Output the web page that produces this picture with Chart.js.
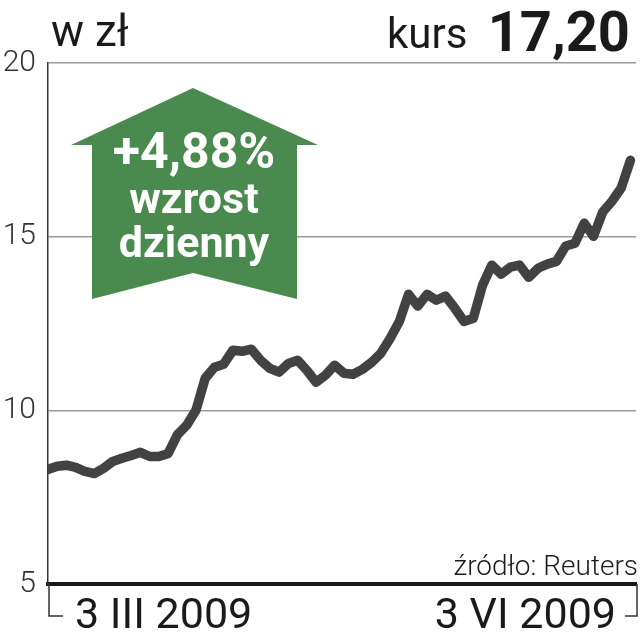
<!DOCTYPE html>
<html>
<head>
<meta charset="utf-8">
<script src="https://cdn.jsdelivr.net/npm/chart.js@4"></script>
<style>
  html, body { margin: 0; padding: 0; background: #fff; }
  #wrap { width: 640px; height: 640px; }
</style>
</head>
<body>
<div id="wrap"><canvas id="chartKurs"></canvas></div>
<script>
// kurs akcji, 3 III 2009 - 3 VI 2009 (notowania dzienne)
const prices = [
  8.30, 8.39, 8.42, 8.36, 8.24, 8.18, 8.33, 8.53, 8.62, 8.70,
  8.79, 8.67, 8.67, 8.76, 9.30, 9.57, 10.00, 10.92, 11.24, 11.33,
  11.73, 11.70, 11.76, 11.44, 11.21, 11.10, 11.35, 11.44, 11.15, 10.81,
  11.01, 11.30, 11.07, 11.04, 11.18, 11.38, 11.64, 12.07, 12.56, 13.34,
  13.00, 13.34, 13.17, 13.29, 12.94, 12.56, 12.65, 13.60, 14.18, 13.92,
  14.12, 14.18, 13.83, 14.09, 14.21, 14.29, 14.73, 14.81, 15.39, 15.01,
  15.71, 16.02, 16.40, 17.20
];
const yTicks = [5, 10, 15, 20];
const dateLabels = ['3 III 2009', '3 VI 2009'];
const unitLabel = 'w zł';
const rateLabel = 'kurs';
const rateValue = '17,20';
const changeLines = ['+4,88%', 'wzrost', 'dzienny'];
const sourceLabel = 'źródło: Reuters';

// strzałka z dzienną zmianą
const arrowPlugin = {
  id: 'arrow',
  beforeDatasetsDraw(chart) {
    const ctx = chart.ctx;
    ctx.save();
    ctx.fillStyle = '#4a8a4f';
    ctx.beginPath();
    ctx.moveTo(193, 88);
    ctx.lineTo(318, 145);
    ctx.lineTo(297, 145);
    ctx.lineTo(297, 299);
    ctx.lineTo(193, 273);
    ctx.lineTo(92, 299);
    ctx.lineTo(92, 145);
    ctx.lineTo(71, 145);
    ctx.closePath();
    ctx.fill();

    ctx.fillStyle = '#ffffff';
    ctx.textAlign = 'center';
    ctx.textBaseline = 'alphabetic';
    ctx.font = 'bold 50px Roboto';
    ctx.fillText(changeLines[0], 194, 168);
    ctx.font = 'bold 43px Roboto';
    ctx.fillText(changeLines[1], 194, 213);
    ctx.fillText(changeLines[2], 194, 257);
    ctx.restore();
  }
};

// tytuły, daty, nawiasy pod osią, źródło
const labelsPlugin = {
  id: 'labels',
  afterDraw(chart) {
    const ctx = chart.ctx;
    const area = chart.chartArea;
    ctx.save();
    ctx.fillStyle = '#1a1a1a';
    ctx.textBaseline = 'alphabetic';

    ctx.textAlign = 'left';
    ctx.font = '44px Roboto';
    ctx.fillText(unitLabel, 51, 46);
    ctx.font = '42px Roboto';
    ctx.fillText(rateLabel, 387, 48);
    ctx.textAlign = 'right';
    ctx.font = 'bold 56px Roboto';
    ctx.fillText(rateValue, 630, 51);

    ctx.font = '300 28px Roboto';
    ctx.fillText(sourceLabel, 638, 575);

    ctx.font = '43px Roboto';
    ctx.textAlign = 'left';
    ctx.fillText(dateLabels[0], 75, 628);
    ctx.textAlign = 'right';
    ctx.fillText(dateLabels[1], 616, 628);

    ctx.strokeStyle = '#333';
    ctx.lineWidth = 1.5;
    ctx.beginPath();
    ctx.moveTo(area.left + 1, area.bottom);
    ctx.lineTo(area.left + 1, 616);
    ctx.lineTo(area.left + 15, 616);
    ctx.moveTo(area.right + 1, area.bottom);
    ctx.lineTo(area.right + 1, 616);
    ctx.lineTo(area.right - 11, 616);
    ctx.stroke();
    ctx.restore();
  }
};

new Chart(document.getElementById('chartKurs').getContext('2d'), {
  type: 'line',
  data: {
    datasets: [{
      data: prices.map((v, i) => ({ x: i, y: v })),
      borderColor: '#424242',
      borderWidth: 9.5,
      borderJoinStyle: 'round',
      borderCapStyle: 'round',
      pointRadius: 0,
      tension: 0,
      fill: false
    }]
  },
  options: {
    responsive: true,
    maintainAspectRatio: false,
    animation: false,
    layout: { padding: { top: 63, bottom: 56, right: 4, left: 0 } },
    plugins: {
      legend: { display: false },
      tooltip: { enabled: false }
    },
    scales: {
      x: {
        type: 'linear',
        min: 0,
        max: 63.6,
        ticks: { display: false },
        grid: { display: false },
        border: { display: true, color: '#1a1a1a', width: 4 },
        afterFit: scale => { scale.height = 0; }
      },
      y: {
        min: 5,
        max: 20,
        afterBuildTicks: scale => { scale.ticks = yTicks.map(v => ({ value: v })); },
        ticks: {
          padding: 12,
          color: '#333',
          font: { family: 'Roboto', size: 30, weight: 300 }
        },
        grid: { color: '#9a9a9a', lineWidth: 1.5, drawTicks: false },
        border: { display: true, color: '#333', width: 1.5 },
        afterFit: scale => { scale.width = 48; }
      }
    }
  },
  plugins: [arrowPlugin, labelsPlugin]
});
</script>
</body>
</html>
